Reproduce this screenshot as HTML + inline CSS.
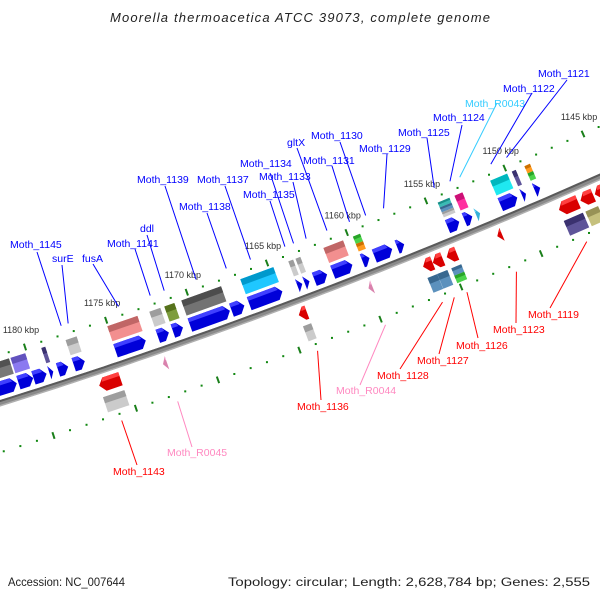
<!DOCTYPE html>
<html>
<head>
<meta charset="utf-8">
<style>
html,body{margin:0;padding:0;background:#fff;}
#wrap{width:600px;height:600px;position:relative;overflow:hidden;}
svg{display:block;}
text{font-family:"Liberation Sans","DejaVu Sans",sans-serif;}
</style>
</head>
<body>
<div id="wrap">
<svg id="chart" width="600" height="600" viewBox="0 0 600 600">
  <text x="300" y="22" text-anchor="middle" font-size="13" font-style="italic" fill="#222" textLength="380" lengthAdjust="spacing">Moorella thermoacetica ATCC 39073, complete genome</text>
  <text x="8" y="586" font-size="11.5" fill="#222" textLength="117" lengthAdjust="spacingAndGlyphs">Accession: NC_007644</text>
  <text x="590" y="586" text-anchor="end" font-size="11.5" fill="#222" textLength="362" lengthAdjust="spacingAndGlyphs">Topology: circular; Length: 2,628,784 bp; Genes: 2,555</text>
  <g id="ticks"></g>
  <g id="backbone"></g>
  <g id="genes"></g>
  <g id="labels"></g>
</svg>
</div>
<script>
// ---- data (kbp) ----
const fwdHi = [1182.7,1181.0,1180.08,1179.11,1178.58,1177.62,1175.05,1172.45,1171.52,1170.47,1167.9,1166.8,1163.8,1163.35,1162.75,1161.6,1159.75,1159.0,1157.57,1154.4,1153.34,1152.6,1151.07,1149.7,1148.9];
const fwdLo = [1181.1,1180.1,1179.28,1178.87,1177.96,1176.94,1173.19,1171.77,1170.9,1168.0,1167.1,1164.74,1163.5,1163.05,1161.95,1160.37,1159.3,1157.88,1157.13,1153.66,1152.84,1152.35,1150.0,1149.45,1148.55];
const fwdKind = ["cds","cds","cds","cds","cds","cds","cds","cds","cds","cds","cds","cds","cds","cds","cds","cds","cds","cds","cds","cds","cds","trna","cds","cds","cds"];
const fwdCog = [["#666666"],["#7b68ee"],[],["#483d8b"],[],["#c4c4c4"],["#f08080"],["#c4c4c4"],["#6b8e23"],["#606060"],[],["#00bfff"],["#c4c4c4"],["#c4c4c4"],[],["#f08080"],["#32cd32","#ff8c00"],[],[],["#20b2aa","#4682b4","#c4c4c4"],["#ff1493"],[],["#00e5ee"],["#483d8b"],["#ff8c00","#32cd32"]];
const revHi = [1176.6,1172.7,1164.33,1160.0,1156.6,1155.99,1155.12,1151.95,1148.06,1146.7,1145.8];
const revLo = [1175.3,1172.45,1163.83,1159.75,1156.0,1155.37,1154.5,1151.65,1146.86,1145.9,1144.6];
const revKind = ["cds","trna","cds","trna","cds","cds","cds","cds","cds","cds","cds"];
const revCog = [["#c4c4c4"],[],["#c4c4c4"],[],["#4682b4"],["#4682b4"],["#4682b4","#32cd32"],[],["#483d8b"],["#bdb76b"],[]];
const tickStart = 1140, tickEnd = 1186, tickLabelStep = 5;
const upNames = ["Moth_1145","surE","fusA","Moth_1141","ddl","Moth_1139","Moth_1138","Moth_1137","Moth_1135","Moth_1134","Moth_1133","gltX","Moth_1131","Moth_1130","Moth_1129","Moth_1125","Moth_1124","Moth_R0043","Moth_1122","Moth_1121"];
const upAnchor = [1177.6,1177.17,1174.06,1172.09,1171.22,1169.24,1167.35,1165.84,1163.68,1163.14,1162.35,1161.04,1159.62,1158.6,1157.47,1154.26,1153.26,1152.64,1150.66,1149.66];
const upColor = ["#0000ff","#0000ff","#0000ff","#0000ff","#0000ff","#0000ff","#0000ff","#0000ff","#0000ff","#0000ff","#0000ff","#0000ff","#0000ff","#0000ff","#0000ff","#0000ff","#0000ff","#33ccff","#0000ff","#0000ff"];
const lowNames = ["Moth_1143","Moth_R0045","Moth_1136","Moth_R0044","Moth_1128","Moth_1127","Moth_1126","Moth_1123","Moth_1119"];
const lowAnchor = [1176.0,1172.6,1164.04,1159.85,1156.32,1155.59,1154.8,1151.72,1147.32];
const lowColor = ["#ff0000","#ff88c0","#ff0000","#ff88c0","#ff0000","#ff0000","#ff0000","#ff0000","#ff0000"];

// ---- layout (label placement, not data) ----
const upTextX = [10,52,82,107,140,137,179,197,243,240,259,287,303,311,359,398,433,465,503,538];
const upTextY = [248,262,262,247,232,183,210,183,198,167,180,146,164,139,152,136,121,107,92,77];
const upLineX = [37,62,93,135,147,165,207,225,270,270,293,297,332,340,387,427,462,497,532,567];
const upLineY = [252,265,264,249,235,186,213,186,201,173,182,148,166,142,154,138,125,103,93,80];
const lowTextX = [113,167,297,336,377,417,456,493,528];
const lowTextY = [475,456,410,394,379,364,349,333,318];
const lowLineX = [137,192,321,360,400,439,478,516,550];
const lowLineY = [465,447,400,385,369,354,338,323,308];

const NS = "http://www.w3.org/2000/svg";
function P(k, r) {
  const t = 1180 - k;
  const x = 25 + 16.276 * t - 0.0095 * t * t;
  const y = 347 - 5.236 * t - 0.0243 * t * t;
  const dx = 16.276 - 0.019 * t, dy = -5.236 - 0.0486 * t;
  const l = Math.hypot(dx, dy);
  const o = r - 43;
  return [x + (dy / l) * o, y + (-dx / l) * o];
}
function ptsStr(a) { return a.map(p => p[0].toFixed(1) + "," + p[1].toFixed(1)).join(" "); }
function shade(hex, f) {
  const n = parseInt(hex.slice(1), 16);
  const c = [(n >> 16) & 255, (n >> 8) & 255, n & 255].map(v => Math.max(0, Math.min(255, Math.round(f >= 1 ? v + (255 - v) * (f - 1) : v * f))));
  return "rgb(" + c.join(",") + ")";
}
function mk(tag, parent) { const e = document.createElementNS(NS, tag); parent.appendChild(e); return e; }

const gT = document.getElementById("ticks");
const gB = document.getElementById("backbone");
const gG = document.getElementById("genes");
const gL = document.getElementById("labels");

const rows = [43, -50];
rows.forEach(function (r) {
  for (let k = tickStart; k <= tickEnd; k++) {
    if (k % tickLabelStep === 0) {
      const a = P(k, r - 3.5), b = P(k, r + 3.5);
      const ln = mk("line", gT);
      
      
      ln.setAttribute("x1", a[0]); ln.setAttribute("y1", a[1]);
      ln.setAttribute("x2", b[0]); ln.setAttribute("y2", b[1]);
      ln.setAttribute("stroke", "#1a7f1a"); ln.setAttribute("stroke-width", "2");
    } else {
      const p = P(k, r);
      const d = mk("rect", gT);
      
      
      d.setAttribute("x", p[0] - 1); d.setAttribute("y", p[1] - 1);
      d.setAttribute("width", 2); d.setAttribute("height", 2);
      d.setAttribute("fill", "#118811");
    }
  }
});
for (let k = tickStart; k <= tickEnd; k += 1) {
  if (k % tickLabelStep !== 0) continue;
  const p = P(k, 43);
  const tx = mk("text", gT);
  
  
  tx.setAttribute("x", p[0] - 4); tx.setAttribute("y", p[1] - 14);
  tx.setAttribute("text-anchor", "middle"); tx.setAttribute("font-size", "9");
  tx.setAttribute("fill", "#333");
  tx.textContent = k + " kbp";
}

function bandPath(r) {
  const a = [];
  for (let k = 1200; k >= 1125; k -= 0.5) a.push(P(k, r));
  return "M" + a.map(p => p[0].toFixed(1) + " " + p[1].toFixed(1)).join(" L");
}
const bb1 = mk("path", gB);


bb1.setAttribute("d", bandPath(-3)); bb1.setAttribute("fill", "none");
bb1.setAttribute("stroke", "#8a8a8a"); bb1.setAttribute("stroke-width", "6");
const bb2 = mk("path", gB);


bb2.setAttribute("d", bandPath(-1)); bb2.setAttribute("fill", "none");
bb2.setAttribute("stroke", "#5a5a5a"); bb2.setAttribute("stroke-width", "2");
const bb3 = mk("path", gB);


bb3.setAttribute("d", bandPath(-5.5)); bb3.setAttribute("fill", "none");
bb3.setAttribute("stroke", "#b0b0b0"); bb3.setAttribute("stroke-width", "1.5");

function arrow(hi, lo, rc, h, dir, color, name) {
  const head = 0.32, len = hi - lo;
  const hd = Math.min(head, len);
  let pts, strip;
  if (dir > 0) {
    const neck = lo + hd;
    pts = [P(hi, rc + h / 2), P(neck, rc + h / 2), P(lo, rc), P(neck, rc - h / 2), P(hi, rc - h / 2)];
    strip = [P(hi, rc + h / 2), P(neck, rc + h / 2), P(neck - hd * 0.3, rc + h / 2 - 4), P(hi, rc + h / 2 - 4)];
  } else {
    const neck = hi - hd;
    pts = [P(lo, rc + h / 2), P(neck, rc + h / 2), P(hi, rc), P(neck, rc - h / 2), P(lo, rc - h / 2)];
    strip = [P(lo, rc + h / 2), P(neck, rc + h / 2), P(neck + hd * 0.3, rc + h / 2 - 4), P(lo, rc + h / 2 - 4)];
  }
  const poly = mk("polygon", gG);
  
  
  poly.setAttribute("points", ptsStr(pts));
  poly.setAttribute("fill", shade(color, 0.85));
  const s = mk("polygon", gG);
  
  
  s.setAttribute("points", ptsStr(strip));
  s.setAttribute("fill", shade(color, 1.25));
}
function cogBox(hi, lo, rc, h, colors, name) {
  const n = colors.length;
  const sh = h / n;
  colors.forEach(function (c, i) {
    const top = rc + h / 2 - i * sh, bot = top - sh;
    const b = mk("polygon", gG);
    
    
    b.setAttribute("points", ptsStr([P(hi, top), P(lo, top), P(lo, bot), P(hi, bot)]));
    b.setAttribute("fill", shade(c, 1.12));
    const tb = top - sh * 0.4;
    const b2 = mk("polygon", gG);
    
    
    b2.setAttribute("points", ptsStr([P(hi, top), P(lo, top), P(lo, tb), P(hi, tb)]));
    b2.setAttribute("fill", shade(c, 0.8));
  });
}
for (let i = 0; i < fwdHi.length; i++) {
  const col = fwdKind[i] === "trna" ? "#40d0ff" : "#0000ff";
  arrow(fwdHi[i], fwdLo[i], 11, 14, 1, col, "forward-gene");
  if (fwdCog[i].length) cogBox(fwdHi[i], fwdLo[i], 29, 16, fwdCog[i], "forward-cog-box");
}
for (let i = 0; i < revHi.length; i++) {
  const col = revKind[i] === "trna" ? "#ff99cc" : "#ff0000";
  arrow(revHi[i], revLo[i], -17, 14, -1, col, "reverse-gene");
  if (revCog[i].length) cogBox(revHi[i], revLo[i], -37, 16, revCog[i], "reverse-cog-box");
}

for (let i = 0; i < upNames.length; i++) {
  const a = P(upAnchor[i], 52);
  const ln = mk("line", gL);
  
  
  ln.setAttribute("x1", a[0]); ln.setAttribute("y1", a[1]);
  ln.setAttribute("x2", upLineX[i]); ln.setAttribute("y2", upLineY[i]);
  ln.setAttribute("stroke", upColor[i]); ln.setAttribute("stroke-width", "1");
  const t = mk("text", gL);
  
  
  t.setAttribute("x", upTextX[i]); t.setAttribute("y", upTextY[i]);
  t.setAttribute("font-size", "10.5"); t.setAttribute("fill", upColor[i]);
  t.textContent = upNames[i];
}
for (let i = 0; i < lowNames.length; i++) {
  const a = P(lowAnchor[i], -57);
  const ln = mk("line", gL);
  
  
  ln.setAttribute("x1", a[0]); ln.setAttribute("y1", a[1]);
  ln.setAttribute("x2", lowLineX[i]); ln.setAttribute("y2", lowLineY[i]);
  ln.setAttribute("stroke", lowColor[i]); ln.setAttribute("stroke-width", "1");
  const t = mk("text", gL);
  
  
  t.setAttribute("x", lowTextX[i]); t.setAttribute("y", lowTextY[i]);
  t.setAttribute("font-size", "10.5"); t.setAttribute("fill", lowColor[i]);
  t.textContent = lowNames[i];
}
</script>
</body>
</html>
